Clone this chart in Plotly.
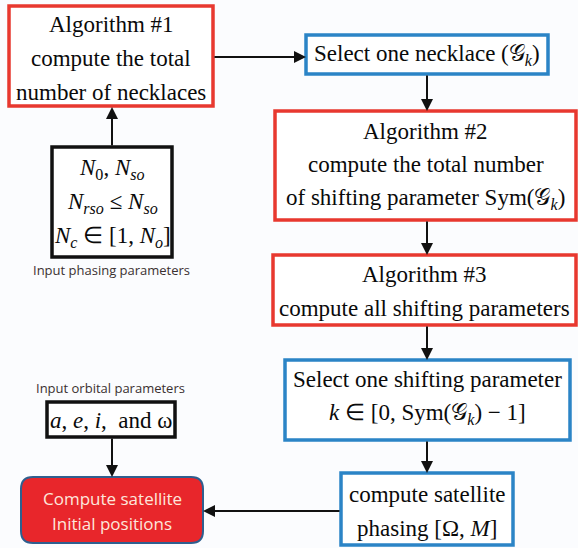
import plotly.graph_objects as go

W, H = 578, 548

# ---- content (text of the flowchart nodes) ----
alg1_lines = ["Algorithm #1", "compute the total", "number of necklaces"]
sel_neck_lines = ["Select one necklace (𝒢<sub><i>k</i></sub>)"]
alg2_lines = ["Algorithm #2", "compute the total number",
              "of shifting parameter Sym(𝒢<sub><i>k</i></sub>)"]
alg3_lines = ["Algorithm #3", "compute all shifting parameters"]
sel_shift_lines = ["Select one shifting parameter",
                   "<i>k</i> ∈ [0, Sym(𝒢<sub><i>k</i></sub>) − 1]"]
phasing_lines = ["compute satellite", "phasing [Ω, <i>M</i>]"]
input_phasing_lines = ["<i>N</i><sub>0</sub>, <i>N</i><sub><i>so</i></sub>",
                       "<i>N</i><sub><i>rso</i></sub> ≤ <i>N</i><sub><i>so</i></sub>",
                       "<i>N</i><sub><i>c</i></sub> ∈ [1, <i>N</i><sub><i>o</i></sub>]"]
input_phasing_label = "Input phasing parameters"
orbital_lines = ["<i>a</i>, <i>e</i>, <i>i</i>,  and ω"]
orbital_label = "Input orbital parameters"
final_lines = ["Compute satellite", "Initial positions"]

# ---- layout geometry ----
RED = "#e8382f"
BLUE = "#2b84c6"
BLACK = "#111111"
SERIF = 23

boxes = [
    # (x0, y0, x1, y1, color, lines, line_ys)
    (9, 6, 213, 106, RED, alg1_lines, [24, 58, 92]),
    (306, 35, 548, 74, BLUE, sel_neck_lines, [55]),
    (275, 111, 576, 220, RED, alg2_lines, [131, 164, 199]),
    (273, 255, 576, 325, RED, alg3_lines, [274, 308]),
    (285, 360, 570, 440, BLUE, sel_shift_lines, [379, 414]),
    (341, 473, 513, 545, BLUE, phasing_lines, [494, 528]),
    (52, 147, 172, 257, BLACK, input_phasing_lines, [169, 203, 237]),
    (47, 402, 175, 437, BLACK, orbital_lines, [420]),
]

arrows = [
    # (x_from, y_from, x_to, y_to)
    (213, 57, 306, 57),
    (112, 147, 112, 107),
    (427, 74, 427, 111),
    (427, 220, 427, 255),
    (427, 325, 427, 360),
    (427, 440, 427, 473),
    (341, 511, 203, 511),
    (112, 437, 112, 477),
]

fig = go.Figure()
shapes = []
annotations = []

for x0, y0, x1, y1, col, lines, ys in boxes:
    shapes.append(dict(type="rect", xref="x", yref="y", x0=x0, y0=y0, x1=x1, y1=y1,
                       line=dict(color=col, width=3.5), fillcolor="white", layer="below"))
    for txt, yy in zip(lines, ys):
        annotations.append(dict(x=(x0 + x1) / 2, y=yy, xref="x", yref="y", text=txt,
                                showarrow=False, xanchor="center", yanchor="middle",
                                font=dict(family="Liberation Serif", size=SERIF, color="#0a0a0a")))

# rounded final box
fx0, fy0, fx1, fy1, r = 21, 477, 203, 543, 12
path = (f"M {fx0+r},{fy0} L {fx1-r},{fy0} Q {fx1},{fy0} {fx1},{fy0+r} "
        f"L {fx1},{fy1-r} Q {fx1},{fy1} {fx1-r},{fy1} L {fx0+r},{fy1} "
        f"Q {fx0},{fy1} {fx0},{fy1-r} L {fx0},{fy0+r} Q {fx0},{fy0} {fx0+r},{fy0} Z")
shapes.append(dict(type="path", xref="x", yref="y", path=path,
                   fillcolor="#e8262b", line=dict(color="#2f5f8f", width=2)))
for txt, yy in zip(final_lines, [498, 523]):
    annotations.append(dict(x=(fx0 + fx1) / 2, y=yy, xref="x", yref="y", text=txt,
                            showarrow=False, font=dict(family="Open Sans", size=17, color="#fde6dc")))

# labels
annotations.append(dict(x=111, y=270, xref="x", yref="y", text=input_phasing_label, showarrow=False,
                        font=dict(family="Open Sans", size=13, color="#3a3030")))
annotations.append(dict(x=110, y=388, xref="x", yref="y", text=orbital_label, showarrow=False,
                        font=dict(family="Open Sans", size=13, color="#3a3030")))

for xa, ya, xb, yb in arrows:
    annotations.append(dict(x=xb, y=yb, ax=xa, ay=ya, xref="x", yref="y", axref="x", ayref="y",
                            text="", showarrow=True, arrowhead=2, arrowsize=1.2, arrowwidth=2,
                            arrowcolor="#111111", standoff=0, startstandoff=0))

fig.update_layout(
    width=W, height=H, margin=dict(l=0, r=0, t=0, b=0),
    paper_bgcolor="#fbfcfe", plot_bgcolor="#fbfcfe",
    xaxis=dict(range=[0, W], visible=False, fixedrange=True),
    yaxis=dict(range=[H, 0], visible=False, fixedrange=True),
    shapes=shapes, annotations=annotations, showlegend=False,
)
fig.write_html("out.html", config={"displayModeBar": False},
               post_script="document.body.style.margin='0';document.body.style.overflow='hidden';")
